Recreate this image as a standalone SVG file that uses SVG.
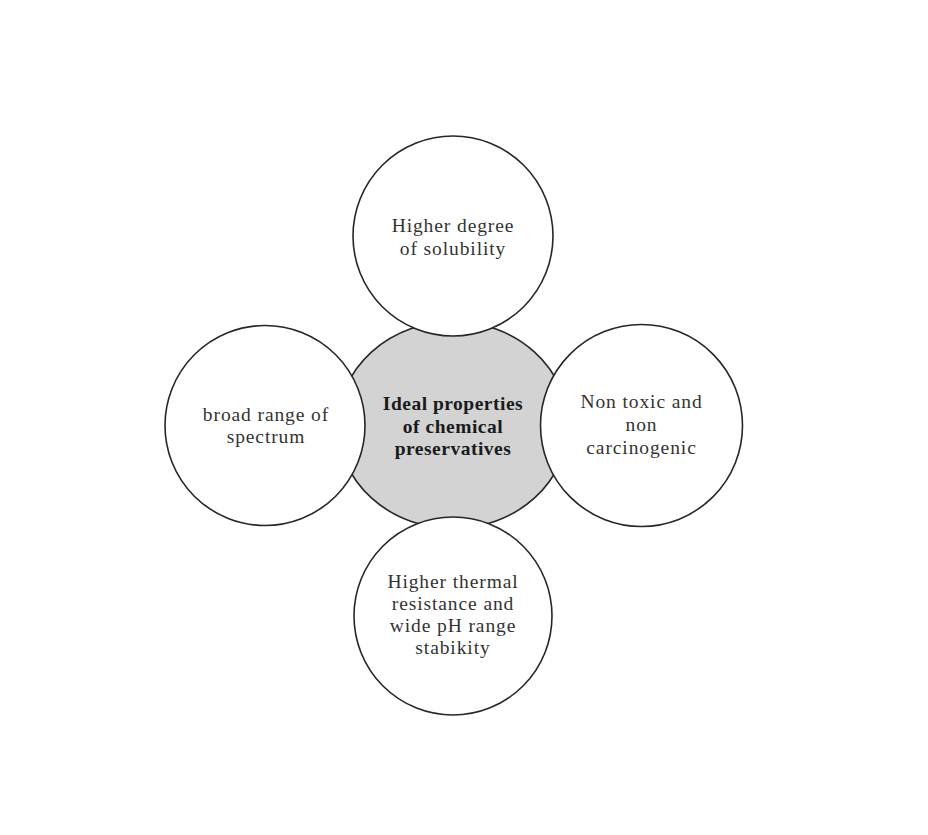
<svg xmlns="http://www.w3.org/2000/svg" width="928" height="835" viewBox="0 0 928 835">
  <style>
    .outer { fill: #ffffff; stroke: #262626; stroke-width: 1.6; }
    .core { fill: #d3d3d3; stroke: #262626; stroke-width: 1.6; }
    .t { font-family: "Liberation Serif", "DejaVu Serif", serif; font-size: 19.5px; letter-spacing: 0.9px; fill: #333333; text-anchor: middle; }
    .b { font-family: "Liberation Serif", "DejaVu Serif", serif; font-size: 19.5px; letter-spacing: 0.5px; font-weight: bold; fill: #1a1a1a; text-anchor: middle; }
  </style>
  <rect x="0" y="0" width="928" height="835" fill="#ffffff"/>
  <g id="center">
    <ellipse class="core" cx="453" cy="425" rx="115" ry="103.5"/>
  </g>
  <g id="connectors"/>
  <g id="node-top">
    <circle class="outer" cx="453" cy="236" r="100"/>
    <text class="t" x="453" y="232">Higher degree</text>
    <text class="t" x="453" y="254.5">of solubility</text>
  </g>
  <g id="node-left">
    <circle class="outer" cx="265" cy="425.5" r="100"/>
    <text class="t" x="266" y="420.5">broad range of</text>
    <text class="t" x="266" y="443">spectrum</text>
  </g>
  <g id="node-right">
    <circle class="outer" cx="641.5" cy="425.5" r="101"/>
    <text class="t" x="641.5" y="408">Non toxic and</text>
    <text class="t" x="641.5" y="431">non</text>
    <text class="t" x="641.5" y="454">carcinogenic</text>
  </g>
  <g id="node-bottom">
    <circle class="outer" cx="453" cy="616" r="99"/>
    <text class="t" x="453" y="587.5">Higher thermal</text>
    <text class="t" x="453" y="609.5">resistance and</text>
    <text class="t" x="453" y="631.5">wide pH range</text>
    <text class="t" x="453" y="653.5">stabikity</text>
  </g>
  <g id="center-label">
    <text class="b" x="453" y="410">Ideal properties</text>
    <text class="b" x="453" y="432.5">of chemical</text>
    <text class="b" x="453" y="455">preservatives</text>
  </g>
</svg>
